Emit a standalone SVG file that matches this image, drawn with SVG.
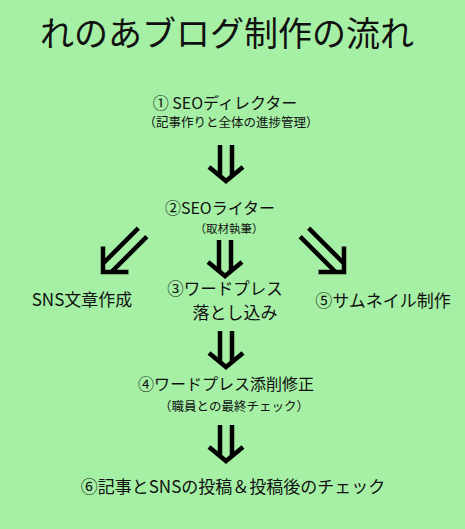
<svg xmlns="http://www.w3.org/2000/svg" xmlns:xlink="http://www.w3.org/1999/xlink" width="465" height="529" viewBox="0 0 465 529">
  <style>
    text { font-family: "Noto Sans CJK JP", "Noto Sans", sans-serif; fill: #111; text-anchor: middle; }
    .title { font-size: 34px; }
    .main { font-size: 16px; }
    .sub { font-size: 12.5px; }
    .arrow { fill: none; stroke: #000; stroke-width: 4.5; stroke-linejoin: miter; stroke-linecap: butt; }
  </style>
  <defs>
    <g id="down">
      <path class="arrow" d="M-6,0 V31 M6,0 V31"/>
      <path class="arrow" d="M-17,22 L0,36 L17,22"/>
    </g>
    <g id="diag">
      <path class="arrow" d="M-6,0 V50 M6,0 V50"/>
      <path class="arrow" d="M-18,38 L0,56 L18,38"/>
    </g>
  </defs>
  <rect width="465" height="529" fill="#a5f0a5"/>

  <g id="title"><text class="title" x="227" y="46">れのあブログ制作の流れ</text></g>

  <g id="node1">
    <text class="main" x="225" y="109">① SEOディレクター</text>
    <text class="sub" x="231" y="127">（記事作りと全体の進捗管理）</text>
  </g>
  <g id="node2">
    <text class="main" x="220" y="214">②SEOライター</text>
    <text class="sub" x="229" y="233" style="font-size:11.5px">（取材執筆）</text>
  </g>
  <g id="node-sns">
    <text class="main" x="82" y="306" style="font-size:17px">SNS文章作成</text>
  </g>
  <g id="node3">
    <text class="main" x="225" y="295" style="font-size:16.5px">③ワードプレス</text>
    <text class="main" x="235" y="319" style="font-size:17px">落とし込み</text>
  </g>
  <g id="node5">
    <text class="main" x="383" y="307" style="font-size:17px">⑤サムネイル制作</text>
  </g>
  <g id="node4">
    <text class="main" x="226" y="390">④ワードプレス添削修正</text>
    <text class="sub" x="234" y="410.5">（職員との最終チェック）</text>
  </g>
  <g id="node6">
    <text class="main" x="233" y="493" style="font-size:17px">⑥記事とSNSの投稿＆投稿後のチェック</text>
  </g>

  <g id="connectors">
    <use xlink:href="#down" transform="translate(226,145)"/>
    <use xlink:href="#down" transform="translate(225,240)"/>
    <use xlink:href="#down" transform="translate(226,331)"/>
    <use xlink:href="#down" transform="translate(226,425)"/>
    <use xlink:href="#diag" transform="translate(103,272) rotate(45) translate(0,-56)"/>
    <use xlink:href="#diag" transform="translate(344,272) rotate(-45) translate(0,-56)"/>
  </g>
</svg>
